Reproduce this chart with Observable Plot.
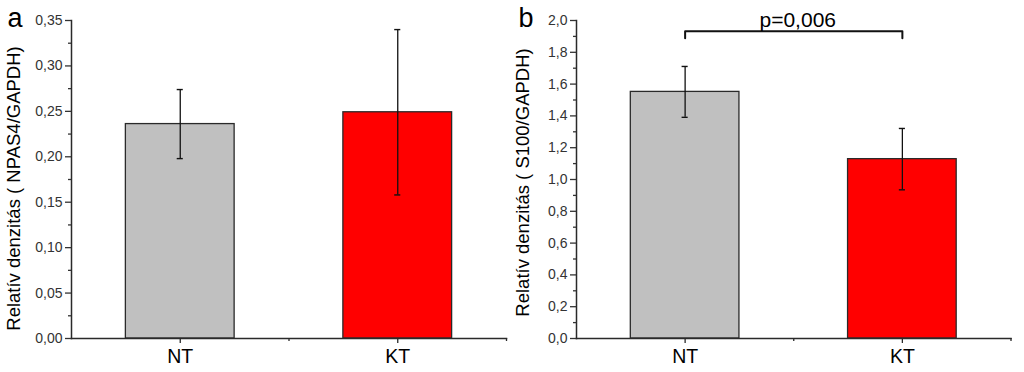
<!DOCTYPE html>
<html><head><meta charset="utf-8">
<script src="https://cdn.jsdelivr.net/npm/d3@7"></script>
<script src="https://cdn.jsdelivr.net/npm/@observablehq/plot@0.6"></script>
<style>
html,body{margin:0;padding:0;background:#fff;}
#wrap{display:flex;width:1024px;height:372px;overflow:hidden;}
#wrap svg{display:block;}
</style></head><body><div id="wrap"></div>
<script>
// ---- data ----
const categories = ["NT", "KT"];
const barColors = ["#c0c0c0", "#ff0000"];

const npas4Values = [0.236, 0.249];
const npas4Errors = [0.038, 0.091];
const npas4Ticks = [0, 0.05, 0.10, 0.15, 0.20, 0.25, 0.30, 0.35];
const npas4MinorTicks = [0.025, 0.075, 0.125, 0.175, 0.225, 0.275, 0.325];

const s100Values = [1.551, 1.128];
const s100Errors = [0.160, 0.193];
const s100Ticks = [0, 0.2, 0.4, 0.6, 0.8, 1.0, 1.2, 1.4, 1.6, 1.8, 2.0];
const s100MinorTicks = [0.1, 0.3, 0.5, 0.7, 0.9, 1.1, 1.3, 1.5, 1.7, 1.9];

const pText = "p=0,006";
const bracketTop = 1.933;
const bracketFoot = 1.889;

const FONT = "Liberation Sans, Arial, Helvetica, sans-serif";
const INK = "#2a2a2a";

function panel({letter, values, errors, ticks, minor, yMax, digits, yLabel,
                width, marginLeft, marginRight, letterDx, labelDx, labelDy, bracket}) {
  const data = categories.map((c, i) => ({
    cat: c, pos: i + 1, value: values[i], lo: values[i] - errors[i], hi: values[i] + errors[i], color: barColors[i]
  }));
  const fmt = d => d.toFixed(digits).replace(".", ",");
  const marks = [
    Plot.rectY(data, {x1: d => d.pos - 0.25, x2: d => d.pos + 0.25, y: "value",
      fill: "color", stroke: INK, strokeWidth: 1.3}),
    Plot.ruleX(data, {x: "pos", y1: "lo", y2: "hi", stroke: "#111", strokeWidth: 1.3}),
    Plot.ruleY(data, {y: "hi", x1: d => d.pos - 0.014, x2: d => d.pos + 0.014, stroke: "#111", strokeWidth: 1.4}),
    Plot.ruleY(data, {y: "lo", x1: d => d.pos - 0.014, x2: d => d.pos + 0.014, stroke: "#111", strokeWidth: 1.4}),
    Plot.frame({anchor: "left", stroke: INK, strokeWidth: 1.5}),
    Plot.frame({anchor: "bottom", stroke: INK, strokeWidth: 1.5}),
    Plot.axisY(ticks, {tickSize: 6, tickPadding: 3, tickFormat: fmt, fontSize: 14, color: "#333", strokeWidth: 1.3, label: null}),
    Plot.axisY(minor, {tickSize: 3, tickFormat: () => "", color: "#333", strokeWidth: 1.3, label: null}),
    Plot.axisX([1, 2], {tickSize: 5, tickPadding: 6, tickFormat: d => categories[d - 1], fontSize: 19.5, color: "#000", stroke: INK, strokeWidth: 1.3, label: null}),
    Plot.axisX([1.5, 2.5], {tickSize: 3, tickFormat: () => "", color: INK, strokeWidth: 1.3, label: null}),
    Plot.text([yLabel], {frameAnchor: "left", dx: labelDx, dy: labelDy, rotate: -90, fontSize: 18.5, fill: "#000", lineAnchor: "middle", textAnchor: "middle"}),
    Plot.text([letter], {frameAnchor: "top-left", dx: letterDx, dy: -2, fontSize: 27, fill: "#000", textAnchor: "start", lineAnchor: "middle"})
  ];
  if (bracket) {
    const pts = [
      {x: 1, y: bracketFoot}, {x: 1, y: bracketTop}, {x: 2, y: bracketTop}, {x: 2, y: bracketFoot}
    ];
    marks.push(Plot.line(pts, {x: "x", y: "y", stroke: "#111", strokeWidth: 2}));
    marks.push(Plot.text([pText], {x: () => 1.5, y: () => yMax, dx: 4, dy: 6, lineAnchor: "bottom", fontSize: 21, fill: "#000"}));
  }
  return Plot.plot({
    width, height: 372,
    marginLeft, marginRight, marginTop: 20, marginBottom: 34,
    style: {fontFamily: FONT, background: "#fff", overflow: "visible"},
    x: {type: "linear", domain: [0.5, 2.5], axis: null},
    y: {domain: [0, yMax], axis: null},
    marks
  });
}

const wrap = document.getElementById("wrap");
wrap.appendChild(panel({
  letter: "a", values: npas4Values, errors: npas4Errors, ticks: npas4Ticks, minor: npas4MinorTicks,
  yMax: 0.35, digits: 2, yLabel: "Relatív denzitás ( NPAS4/GAPDH)",
  width: 512, marginLeft: 71, marginRight: 6, letterDx: -64, labelDx: -57, labelDy: 9, bracket: false
}));
wrap.appendChild(panel({
  letter: "b", values: s100Values, errors: s100Errors, ticks: s100Ticks, minor: s100MinorTicks,
  yMax: 2.0, digits: 1, yLabel: "Relatív denzitás ( S100/GAPDH)",
  width: 512, marginLeft: 64, marginRight: 13.5, letterDx: -58, labelDx: -53, labelDy: 3, bracket: true
}));
</script></body></html>
